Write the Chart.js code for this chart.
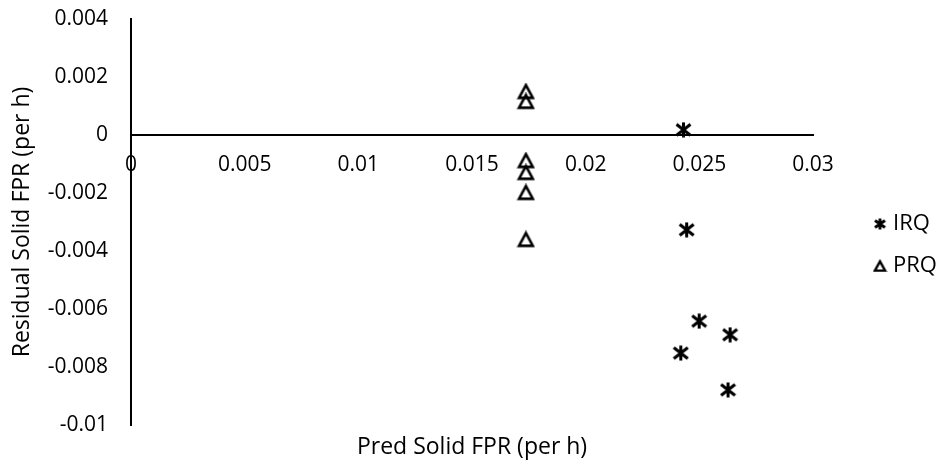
<!DOCTYPE html>
<html>
<head>
<meta charset="utf-8">
<script src="https://cdn.jsdelivr.net/npm/chart.js@4"></script>
<style>
  html, body { margin: 0; padding: 0; background: #fff; }
  #wrap { width: 939px; height: 463px; }
</style>
</head>
<body>
<div id="wrap"><canvas id="chart"></canvas></div>
<script>
// series
const seriesNames = ['IRQ', 'PRQ'];
const irqX = [0.0243, 0.02444, 0.02499, 0.02635, 0.02418, 0.02626];
const irqY = [0.00018, -0.00327, -0.00642, -0.00689, -0.00752, -0.00879];
const prqX = [0.01737, 0.01737, 0.01737, 0.01737, 0.01737, 0.01737];
const prqY = [0.0015, 0.00116, -0.00088, -0.00129, -0.00198, -0.0036];

const xTickLabels = ['0', '0.005', '0.01', '0.015', '0.02', '0.025', '0.03'];
const yTickLabels = ['-0.01', '-0.008', '-0.006', '-0.004', '-0.002', '0', '0.002', '0.004'];

const family = '"Open Sans", sans-serif';
const tickFont = { family: family, size: 21 };
const titleFont = { family: family, size: 23 };
const legendFont = { family: family, size: 22 };
const ink = '#000';

function toPoints(xs, ys) {
  return xs.map((x, i) => ({ x: x, y: ys[i] }));
}

// asterisk marker: an X with a vertical stroke
function starMark(w, h, lw) {
  const c = document.createElement('canvas');
  c.width = w; c.height = h;
  const g = c.getContext('2d');
  g.strokeStyle = ink;
  g.lineWidth = lw;
  g.beginPath();
  g.moveTo(1.5, 2.5); g.lineTo(w - 1.5, h - 2.5);
  g.moveTo(w - 1.5, 2.5); g.lineTo(1.5, h - 2.5);
  g.moveTo(w / 2, 0.5); g.lineTo(w / 2, h - 0.5);
  g.stroke();
  return c;
}

// hollow triangle marker
function triMark(w, h, lw) {
  const c = document.createElement('canvas');
  c.width = w; c.height = h;
  const g = c.getContext('2d');
  g.strokeStyle = ink;
  g.lineWidth = lw;
  g.lineJoin = 'miter';
  g.beginPath();
  g.moveTo(w / 2, lw);
  g.lineTo(w - lw, h - lw);
  g.lineTo(lw, h - lw);
  g.closePath();
  g.stroke();
  return c;
}

const marks = { IRQ: starMark(17, 16, 3), PRQ: triMark(19, 18, 2.6) };
const legendMarks = { IRQ: starMark(13, 12, 2.8), PRQ: triMark(15, 14, 2.4) };

// Excel keeps the legend well clear of the plot; move it over
const legendBoxLeft = 878;
const nudgeLegend = {
  id: 'nudgeLegend',
  afterLayout(chart) {
    const l = chart.legend;
    const dx = legendBoxLeft - (l.left + l.options.labels.padding);
    l.left += dx; l.right += dx;
    l.top += 4; l.bottom += 4;
  }
};

const chart = new Chart(document.getElementById('chart'), {
  type: 'scatter',
  data: {
    datasets: [
      {
        label: seriesNames[0],
        data: toPoints(irqX, irqY),
        pointStyle: marks.IRQ,
        borderColor: ink,
        backgroundColor: 'transparent',
        xAxisID: 'x', yAxisID: 'y'
      },
      {
        label: seriesNames[1],
        data: toPoints(prqX, prqY),
        pointStyle: marks.PRQ,
        borderColor: ink,
        backgroundColor: 'transparent',
        xAxisID: 'x', yAxisID: 'y'
      }
    ]
  },
  plugins: [nudgeLegend],
  options: {
    responsive: true,
    maintainAspectRatio: false,
    animation: false,
    layout: { padding: { top: 19, right: 37, bottom: 0, left: 0 } },
    plugins: {
      tooltip: { enabled: false },
      legend: {
        position: 'right',
        align: 'center',
        labels: {
          usePointStyle: true,
          pointStyleWidth: 4,
          boxHeight: 12,
          padding: 20,
          font: legendFont,
          color: ink,
          generateLabels: function(chart) {
            const items = Chart.defaults.plugins.legend.labels.generateLabels(chart);
            items.forEach(it => { it.pointStyle = legendMarks[it.text]; });
            return items;
          }
        }
      }
    },
    scales: {
      x: {
        type: 'linear',
        position: { y: 0 },
        min: 0,
        max: 0.03,
        ticks: {
          stepSize: 0.005,
          padding: 17,
          font: tickFont,
          color: ink,
          maxRotation: 0,
          callback: (v, i) => xTickLabels[i]
        },
        grid: { display: false, drawTicks: false },
        border: { display: true, color: ink, width: 2 }
      },
      xTitle: {
        type: 'linear',
        axis: 'x',
        position: 'bottom',
        min: 0,
        max: 0.03,
        ticks: { display: false },
        grid: { display: false, drawTicks: false },
        border: { display: false },
        title: {
          display: true,
          text: 'Pred Solid FPR (per h)',
          font: titleFont,
          color: ink,
          padding: { top: 0, bottom: 2 }
        },
        afterFit: s => { s.height = 38; }
      },
      y: {
        type: 'linear',
        position: 'left',
        min: -0.01,
        max: 0.004,
        ticks: {
          stepSize: 0.002,
          padding: 23,
          font: tickFont,
          color: ink,
          callback: (v, i) => yTickLabels[i]
        },
        grid: { display: false, drawTicks: false },
        border: { display: true, color: ink, width: 2 },
        title: {
          display: true,
          text: 'Residual Solid FPR (per h)',
          font: titleFont,
          color: ink,
          padding: { top: 9, bottom: 0 }
        },
        // fixed label band; the tick padding should not push the plot down
        afterFit: s => { s.width = 131; s.paddingTop = 0; s.paddingBottom = 0; }
      }
    }
  }
});
</script>
</body>
</html>
